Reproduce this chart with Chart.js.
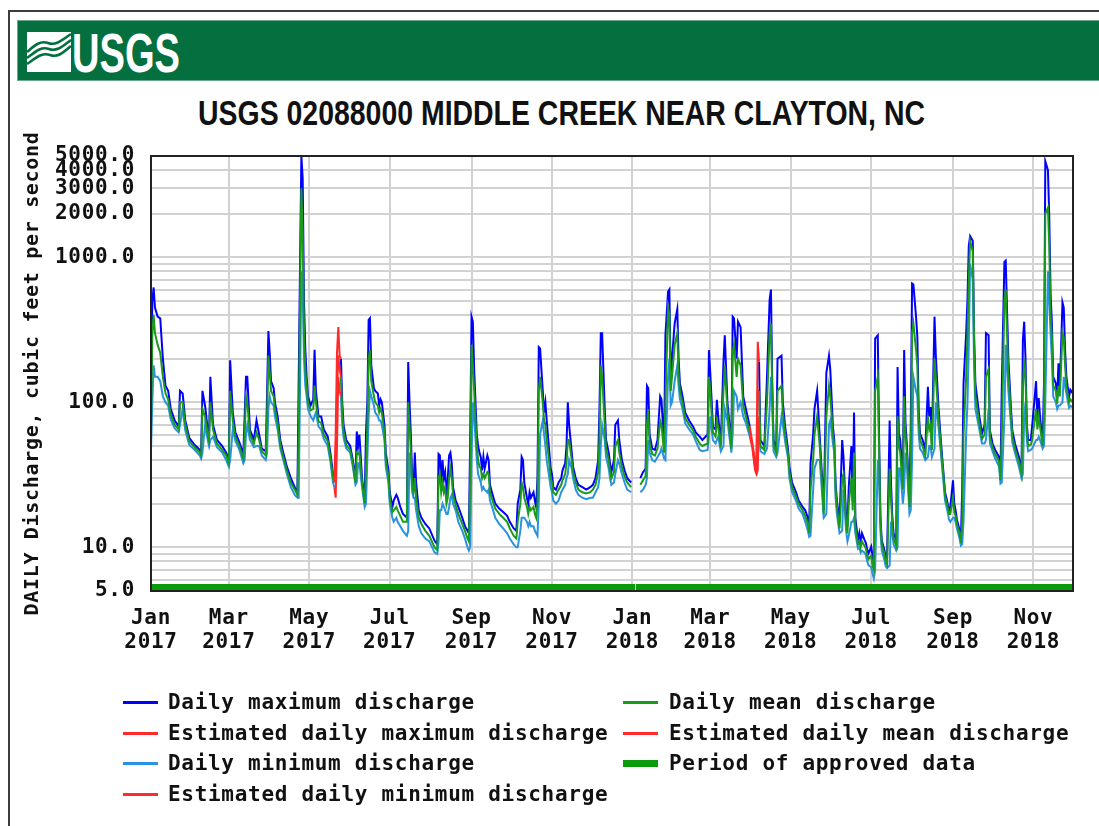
<!DOCTYPE html>
<html lang="en">
<head>
<meta charset="utf-8">
<title>USGS 02088000 Middle Creek near Clayton, NC</title>
<script src="https://cdn.jsdelivr.net/npm/chart.js@4.4.1/dist/chart.umd.min.js"></script>
<style>
  html, body { margin: 0; padding: 0; background: #fff; }
  body { width: 1099px; height: 826px; position: relative; overflow: hidden; }
  #frame { position: absolute; left: 8px; top: 10px; width: 1200px; height: 900px;
           border-left: 2px solid #3c3c3c; border-top: 2px solid #3c3c3c; }
  #banner { position: absolute; left: 17px; top: 20px; width: 1100px; height: 61px;
            background: #04703f; box-shadow: inset 0 0 0 1px #6aa887; }
  #logoIcon { position: absolute; left: 27px; top: 32px; }
  #logoText { position: absolute; left: 72px; top: 25px; color: #fff; white-space: nowrap;
              font: bold 56px "Liberation Sans Narrow", "Liberation Sans", sans-serif;
              line-height: 1; transform-origin: 0 0; }
  #title { position: absolute; left: 198px; top: 95px; color: #111; white-space: nowrap;
           font: bold 35px "Liberation Sans Narrow", "Liberation Sans", sans-serif;
           line-height: 1; transform-origin: 0 0; }
  #chart { position: absolute; left: 0; top: 0; }
  .lgText { position: absolute; color: #111; white-space: nowrap; line-height: 24px;
            font: bold 21px "DejaVu Sans Mono", monospace; letter-spacing: 0.7px; }
  .lgLine { position: absolute; width: 35px; }
</style>
</head>
<body>
<div id="frame"></div>
<div id="banner"></div>
<svg id="logoIcon" width="44" height="40" viewBox="0 0 44 40">
  <rect width="44" height="40" fill="#fff"/>
  <g fill="none" stroke="#04703f" stroke-width="2.6">
    <path d="M0 20 C7 14 13 8 21 11 C29 14 35 8 44 2"/>
    <path d="M0 26 C8 20 14 14 22 17 C30 20 36 14 44 8"/>
    <path d="M0 32 C9 26 15 20 23 23 C31 26 37 20 44 14"/>
  </g>
</svg>
<div id="logoText">USGS</div>
<div id="title">USGS 02088000 MIDDLE CREEK NEAR CLAYTON, NC</div>
<canvas id="chart" width="1099" height="826"></canvas>
<div id="legend"></div>

<script>
// Days counted from 1 Jan 2017; discharge in cubic feet per second.
const dayIndex = [
  0,1,2,3,5,7,9,11,13,15,18,21,22,24,26,29,
  33,37,38,39,41,43,44,45,47,50,54,57,
  59,60,62,64,67,70,71,72,73,75,78,80,82,84,87,
  88,89,90,91,93,94,96,98,100,103,106,109,111,
  112,113,114,115,116,117,118,119,121,123,124,125,127,129,131,134,136,138,139,140,
  144,145,146,148,151,153,155,156,157,158,160,162,163,164,165,166,167,169,170,172,173,174,175,177,178,
  180,181,183,184,186,187,189,191,194,195,196,197,198,199,200,201,203,205,208,211,
  215,217,218,219,220,221,222,223,224,225,226,227,228,229,231,233,236,238,240,241,
  242,243,244,245,247,248,249,250,251,252,253,255,256,257,259,261,264,267,270,272,
  275,277,278,280,281,282,283,285,286,287,288,290,291,292,293,294,295,297,298,299,300,302,303,
  304,305,307,309,311,312,314,315,316,317,319,320,322,324,327,330,333,
  335,337,339,340,341,342,344,345,347,348,349,351,352,354,355,357,359,361,364,366,
  371,373,375,376,377,378,380,382,384,386,387,389,390,
  392,393,394,395,397,399,400,401,403,405,408,411,413,416,418,422,423,
  424,426,428,429,430,432,434,435,437,440,441,442,444,445,447,449,451,454,455,
  461,462,465,467,469,470,471,472,474,475,478,479,481,483,
  484,486,489,491,494,496,498,499,500,502,503,505,507,509,510,512,514,515,
  517,518,519,520,522,524,525,527,528,529,531,532,533,534,536,537,538,539,541,542,543,544,
  546,547,548,549,551,552,553,554,556,557,558,560,561,562,563,565,566,567,568,570,571,572,573,575,576,
  577,578,580,581,582,583,585,587,589,590,591,592,594,595,597,599,600,601,602,604,605,606,
  608,609,610,611,613,614,615,616,618,619,620,621,623,624,625,628,630,632,633,635,636,
  638,640,643,644,645,647,648,649,650,652,653,655,658,660,661,662,663,664,665,667,668,
  671,672,673,674,676,677,678,680,681,682,683,684,686,687,688,689,691,692,693,694,696,697,699
];

const maxFlow = [
  110,500,620,450,390,380,200,130,120,90,75,68,120,115,75,57,
  51,47,45,120,95,65,58,150,70,55,50,45,
  40,195,85,62,53,44,80,150,150,65,55,75,60,48,46,
  115,310,220,140,125,100,80,55,46,36,30,26,24,
  150,900,5000,3500,500,230,150,110,95,105,230,120,80,80,65,58,45,32,30,null,
  200,100,70,55,50,40,30,63,50,60,30,21,62,100,370,380,180,125,120,115,95,105,100,70,45,
  34,24,19,21,23,22,19,17,16,190,100,60,30,25,45,28,18,16,14.5,13.5,
  11.1,10.5,44,43,28,40,30,33,22,30,43,45,38,26,21,19,16,14,13,12.5,
  58,390,360,170,60,50,45,42,34,42,35,43,40,27,23,20,18.5,17.5,16.5,15,
  13.5,13,20,25,42,40,28,22,20,24,22,24,21,19,30,240,235,120,85,100,75,45,35,
  32,26,25,28,30,34,38,50,100,70,45,36,30,27,26,25,26,
  27,30,40,90,300,300,90,55,45,38,33,40,70,75,55,40,34,30,28,null,
  30,33,35,130,125,60,48,47,55,110,105,50,290,
  580,600,150,200,350,440,200,135,110,85,75,68,62,58,55,60,229,
  160,68,65,104,80,52,190,290,100,52,390,380,200,360,330,110,90,68,null,
  190,55,50,150,510,600,135,55,48,200,210,100,65,47,
  36,28,24,21,19,18,16,13.5,38,60,90,120,58,28,18,160,210,167,
  68,55,28,21,15,55,42,16,14,26,50,21,85,16,11.2,12.5,10.7,12.5,11.2,10.7,9.6,9.1,
  10.1,8.6,7.8,275,290,57,16.3,11.2,9.6,8.6,8.2,75,28,16.3,12.5,11.2,175,61,55,29,230,72,52,21,68,
  660,650,390,283,88,61,55,47,128,80,93,52,390,210,93,52,40,31,24,20,18,19,
  29,20,18,15.5,13.2,11.2,25,135,300,510,1200,1400,1300,300,135,80,61,70,300,290,64,
  52,47,42,30.7,125,930,950,430,200,90,64,52,42,34,270,360,200,70,55,55,68,
  140,75,107,80,52,135,4600,4000,1900,560,351,150,135,107,186,122,490,450,229,150,109,122,115
];

const meanFlow = [
  70,300,400,300,250,220,150,115,105,82,70,65,100,100,70,54,
  49,45,43,90,80,60,54,100,65,52,47,43,
  38,120,75,58,50,41,60,110,100,60,52,62,55,46,43,
  80,210,160,120,110,90,72,51,43,34,28,25,23,
  60,500,3000,1500,300,170,130,100,88,90,130,100,74,72,60,54,42,30,28,null,
  150,85,63,51,47,38,28,45,44,45,28,20,35,70,200,230,140,110,100,95,85,90,85,62,40,
  31,22,17.5,18,19,18,16.5,15,15,100,70,45,27,24,30,22,16,14.5,13,12,
  10,9.6,30,32,24,28,24,26,20,22,30,35,30,23,19.5,17,14.5,13,11.5,11,
  30,250,180,120,50,40,36,35,30,32,30,33,32,24,21,18.5,17,16,15,13.5,
  12,11.5,15,20,28,26,22,19,17,19,18,19,17,16,20,120,150,100,75,70,55,38,30,
  28,24,23,25,27,29,32,38,55,55,40,33,28,25,24,23.5,24,
  25,27,33,55,180,150,70,48,40,34,30,33,50,55,45,36,31,28,26,null,
  27,29,31,70,90,52,44,43,48,75,70,45,100,
  450,400,120,150,250,300,160,120,100,78,70,64,58,52,50,52,150,
  120,62,58,75,68,49,120,180,88,48,220,250,150,200,180,95,80,62,null,
  120,50,47,100,300,350,115,50,45,120,130,85,58,44,
  33,26,22.5,20,18,16.5,14.5,12.5,25,40,60,80,50,25,17,80,130,110,
  60,50,25,19,13.5,30,32,14.5,12.5,20,30,18,45,14,10.5,11,10,11,10.2,9.8,8.8,8.3,
  8.8,7.5,7,120,150,45,15,10.5,9,8,7.6,35,22,14.5,11.5,10.2,80,50,45,25,110,60,45,19,40,
  300,350,230,180,75,55,50,43,80,65,70,47,200,150,80,47,37,29,22.5,19,17,17,
  22,17.5,16.5,14.5,12.5,10.7,15,60,150,300,700,1300,1100,250,110,72,56,60,150,170,58,
  49,44,39,29,60,500,600,300,160,80,58,48,39,32,120,200,150,62,50,51,55,
  90,65,80,68,50,80,2000,2200,1200,400,280,130,120,98,130,110,300,280,180,130,100,105,100
];

const minFlow = [
  47,100,180,150,150,140,110,100,95,76,66,62,70,90,64,51,
  47,43,41,45,70,55,50,55,58,49,45,40,
  36,40,65,54,47,38,40,60,70,55,49,50,50,43,40,
  45,90,110,100,95,80,65,48,41,32,26,23,22,
  22,130,800,600,200,130,110,90,80,75,80,85,68,65,56,50,39,28,26,null,
  110,70,57,48,45,36,27,28,38,38,26,19,20,40,80,120,110,95,85,80,75,75,70,55,36,
  28,20,16,15,16,15,14,13,12,13,45,35,24,22,22,18,14,12.5,11.5,11,
  9.2,9,11,18,18,20,19,18,17,17,19,22,23,20,18,15,13,11.5,10,9.5,
  10,40,100,80,40,32,30,28,25,26,25,24,25,21,18.5,16,14.5,13.5,12.5,11.5,
  10.5,10,10,13,16,16,16,15,14,15,14,14,13,12.5,12,20,60,75,60,50,40,30,26,
  24,21,20,21,24,25,27,30,32,40,35,30,25,23,22,21.5,22,
  22,24,26,30,50,70,55,42,35,30,27,28,32,40,38,32,28,25,24,null,
  24,25,27,30,55,45,40,39,42,45,48,41,40,
  150,200,95,100,140,180,130,105,90,72,65,60,54,47,46,47,60,
  80,55,52,55,58,46,50,90,75,45,60,120,110,90,100,80,72,58,null,
  80,46,44,48,90,150,95,46,42,45,80,70,52,41,
  30,24,21,18.5,17,15,13,11.8,12,25,35,40,40,22,16,17,70,75,
  52,45,22,17,12.5,13,25,13,11,12,15,15,16,12.5,9.8,10,9.2,9.5,9.2,8.8,8,7.5,
  7.3,6.6,6.1,7,40,30,13,9.5,8.2,7.4,7.2,7.5,15,12.5,10.5,9.5,10,35,35,20,25,45,38,17,18,
  40,150,120,110,62,48,45,40,42,50,50,42,48,100,68,43,34,27,21,17.5,15.5,15,
  16,16,15,13.5,11.5,10.3,10.5,15,60,100,250,900,700,180,90,65,52,52,55,90,52,
  46,41,36,27.5,28,80,250,180,120,70,53,45,36,30,32,80,100,55,46,47,48,
  55,55,58,55,48,50,100,800,500,300,200,110,100,90,95,95,100,150,130,115,92,95,92
];

// Estimated (provisional) stretches: late May 2017 and early April 2018.
const estDays = [139,140,141,142,143,144, 300, 454,456,457,458,459,460,461];
const estMax  = [30,60,220,330,210,200, null, 68,52,45,38,36,262,190];
const estMean = [28,32,120,210,170,150, null, 62,50,42,36,34,120,120];
const estMin  = [26,22,50,150,120,110, null, 58,48,40,34,32,34,80];

// Approved-data periods (start / end day).
const approvedStart = [0, 367.6];
const approvedEnd   = [367.0, 699];

// Axis ticks.
const monthTickDays = [0,59,120,181,243,304,365,424,485,546,608,669];
const monthNames    = ['Jan','Mar','May','Jul','Sep','Nov','Jan','Mar','May','Jul','Sep','Nov'];
const monthYears    = ['2017','2017','2017','2017','2017','2017','2018','2018','2018','2018','2018','2018'];
const yGridValues   = [5,6,7,8,9,10,20,30,40,50,60,70,80,90,100,200,300,400,500,600,700,800,900,1000,2000,3000,4000,5000];
const yLabelValues  = [5,10,100,1000,2000,3000,4000,5000];

const COLORS = {
  max: '#0000ff',
  mean: '#1a9a1a',
  min: '#2a93e0',
  est: '#ff2a2a',
  approved: '#0a9a0a'
};

const toPoints = (days, vals) => days.map((d, i) => ({ x: d, y: vals[i] }));
const approvedPoints = [];
approvedStart.forEach((s, i) => {
  if (i > 0) approvedPoints.push({ x: (approvedEnd[i - 1] + s) / 2, y: null });
  approvedPoints.push({ x: s, y: 5 }, { x: approvedEnd[i], y: 5 });
});

const MONO = 'DejaVu Sans Mono';

const plotFrame = {
  id: 'plotFrame',
  afterDatasetsDraw(chart) {
    const { ctx, chartArea: a } = chart;
    ctx.save();
    ctx.strokeStyle = '#222';
    ctx.lineWidth = 2;
    ctx.strokeRect(a.left, a.top, a.right - a.left, a.bottom - a.top);
    ctx.restore();
  }
};
const monoSpacing = {
  id: 'monoSpacing',
  beforeDraw(chart) { chart.ctx.letterSpacing = '0.7px'; }
};

const chart = new Chart(document.getElementById('chart'), {
  type: 'line',
  data: {
    datasets: [
      { label: 'Daily maximum discharge', data: toPoints(dayIndex, maxFlow), borderColor: COLORS.max, order: 6 },
      { label: 'Daily minimum discharge', data: toPoints(dayIndex, minFlow), borderColor: COLORS.min, order: 5 },
      { label: 'Daily mean discharge', data: toPoints(dayIndex, meanFlow), borderColor: COLORS.mean, order: 4 },
      { label: 'Estimated daily maximum discharge', data: toPoints(estDays, estMax), borderColor: COLORS.est, order: 3 },
      { label: 'Estimated daily minimum discharge', data: toPoints(estDays, estMin), borderColor: COLORS.est, order: 2 },
      { label: 'Estimated daily mean discharge', data: toPoints(estDays, estMean), borderColor: COLORS.est, order: 1 },
      { label: 'Period of approved data', data: approvedPoints, borderColor: COLORS.approved,
        borderWidth: 14, borderCapStyle: 'butt', clip: { left: 4, top: 0, right: 2, bottom: 1 }, order: 0 }
    ]
  },
  options: {
    responsive: false,
    animation: false,
    events: [],
    layout: { padding: { left: 20, top: 156, right: 26, bottom: 165 } },
    elements: {
      point: { radius: 0 },
      line: { tension: 0, borderWidth: 2, fill: false }
    },
    plugins: { legend: { display: false }, tooltip: { enabled: false } },
    scales: {
      x: {
        type: 'linear', min: 0, max: 699,
        afterBuildTicks(scale) { scale.ticks = monthTickDays.map(v => ({ value: v })); },
        afterFit(scale) { scale.height = 70; },
        border: { display: false },
        grid: { color: '#d2d2d2', lineWidth: 2, drawTicks: false },
        ticks: {
          autoSkip: false, maxRotation: 0, minRotation: 0, padding: 15, color: '#111',
          font: { family: MONO, weight: 'bold', size: 21, lineHeight: 1.15 },
          callback(value) {
            const i = monthTickDays.indexOf(value);
            return i < 0 ? '' : [monthNames[i], monthYears[i]];
          }
        }
      },
      y: {
        type: 'logarithmic', min: 5, max: 5000,
        afterBuildTicks(scale) { scale.ticks = yGridValues.map(v => ({ value: v })); },
        afterFit(scale) { scale.width = 131; },
        border: { display: false },
        grid: { color: '#d2d2d2', lineWidth: 2, drawTicks: false },
        ticks: {
          autoSkip: false, padding: 16, color: '#111',
          font: { family: MONO, weight: 'bold', size: 21 },
          callback(value) { return yLabelValues.includes(value) ? value.toFixed(1) : ''; }
        },
        title: {
          display: true, text: 'DAILY Discharge, cubic feet per second', color: '#111',
          padding: { top: 1, bottom: 0 },
          font: { family: MONO, weight: 'bold', size: 20, lineHeight: 1.2 }
        }
      }
    }
  },
  plugins: [monoSpacing, plotFrame]
});

// Two-column legend built from the chart's datasets.
const legendColumns = [
  ['Daily maximum discharge', 'Estimated daily maximum discharge', 'Daily minimum discharge', 'Estimated daily minimum discharge'],
  ['Daily mean discharge', 'Estimated daily mean discharge', 'Period of approved data']
];
const legendLineX = [123, 623];
const legendTextX = [168, 669];
const legendRowY  = [702, 733, 763, 794];
const legendEl = document.getElementById('legend');
legendColumns.forEach((col, c) => {
  col.forEach((label, r) => {
    const ds = chart.data.datasets.find(d => d.label === label);
    const thick = ds.borderWidth === 14 ? 7 : 3;
    const line = document.createElement('div');
    line.className = 'lgLine';
    line.style.left = legendLineX[c] + 'px';
    line.style.top = (legendRowY[r] - thick / 2) + 'px';
    line.style.height = thick + 'px';
    line.style.background = ds.borderColor;
    legendEl.appendChild(line);
    const txt = document.createElement('div');
    txt.className = 'lgText';
    txt.style.left = legendTextX[c] + 'px';
    txt.style.top = (legendRowY[r] - 12) + 'px';
    txt.textContent = ds.label;
    legendEl.appendChild(txt);
  });
});

// Fit the heading texts to their boxes.
function fitWidth(id, target) {
  const el = document.getElementById(id);
  el.style.transform = 'none';
  const w = el.getBoundingClientRect().width;
  el.style.transform = 'scaleX(' + (target / w) + ')';
}
fitWidth('title', 727);
fitWidth('logoText', 108);
document.fonts.ready.then(() => { fitWidth('title', 727); fitWidth('logoText', 108); });
</script>
</body>
</html>
